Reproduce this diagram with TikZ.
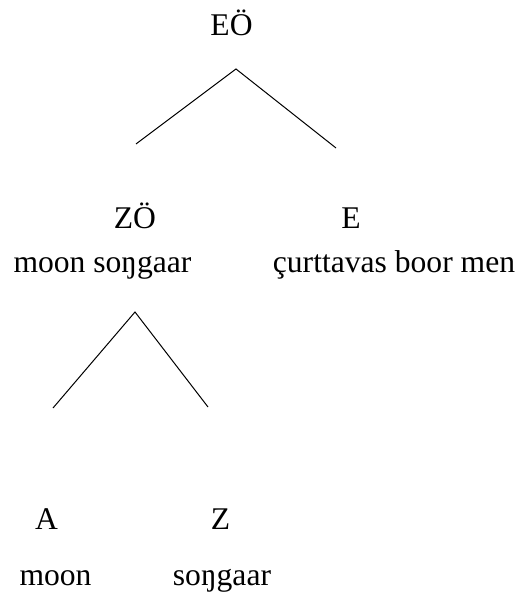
\documentclass[tikz,border=0pt]{standalone}
\usepackage{fontspec}
\setmainfont{Liberation Serif}
\usepackage{tikz}

\begin{document}
\begin{tikzpicture}[
    x=0.5pt, y=-0.5pt,
    line width=0.5pt,
    every node/.style={inner sep=0pt, anchor=base, font=\fontsize{15.8}{19}\selectfont}
  ]
    \useasboundingbox (0,0) rectangle (518,592);
    % top level
    \node (eo) at (231.5,36) {EÖ};
    \node (zo) at (135,229) {ZÖ};
    \node (e) at (351,229) {E};
    \node (zogl) at (102.5,273) {moon soŋgaar};
    \node (egl) at (394,273) {çurttavas boor men};
    % lower level
    \node (a) at (46.5,529) {A};
    \node (z) at (220.5,529) {Z};
    \node (agl) at (55.5,585) {moon};
    \node (zgl) at (222,585) {soŋgaar};
    % branch points
    \coordinate (eotop) at (236,69);
    \coordinate (zoend) at (136,144);
    \coordinate (eend) at (336,148);
    \coordinate (zotop) at (135,312);
    \coordinate (aend) at (53,408);
    \coordinate (zend) at (208,407);
    \draw (zoend) -- (eotop) -- (eend);
    \draw (aend) -- (zotop) -- (zend);
  \end{tikzpicture}
\end{document}
